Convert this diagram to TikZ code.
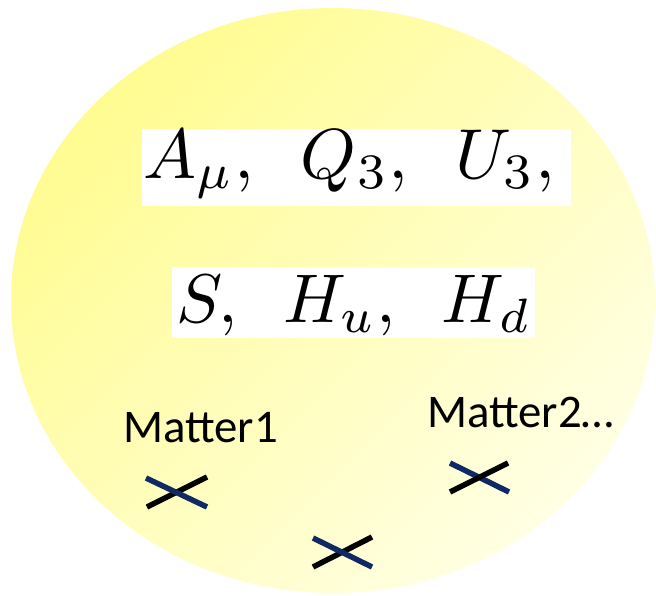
\documentclass[tikz,border=0pt]{standalone}
\usepackage{fontspec}
\newfontfamily\carlito{Carlito}
\definecolor{navyx}{RGB}{16,40,100}
\definecolor{yellowA}{RGB}{255,252,145}
\definecolor{yellowB}{RGB}{255,255,228}
\tikzset{
  mathbox/.style={draw=none, fill=white, inner ysep=0pt, align=left, anchor=north west},
  mlabel/.style={inner sep=0pt, anchor=base west, font=\carlito\fontsize{47}{47}\selectfont},
  crossline/.style={line width=5.5bp},
}
\begin{document}
\begin{tikzpicture}[x=1bp,y=-1bp]
\useasboundingbox (0,0) rectangle (656,596);
\shade[shading=axis, top color=yellowA, bottom color=yellowB, shading angle=45]
  (333,300.5) ellipse [x radius=322bp, y radius=292.5bp];
\node[mathbox, inner xsep=1bp, text width=427bp, text height=49bp, text depth=28bp] (row1) at (142,129)
  {\resizebox{412bp}{!}{$A_\mu,\ \, Q_3,\ \, U_3,$}};
\node[mathbox, inner xsep=4bp, text width=355bp, text height=55bp, text depth=16bp] (row2) at (172,267)
  {\resizebox{355bp}{!}{$S,\ \, H_u,\ \, H_d$}};
\node[mlabel] (m1) at (123,442) {Matter1};
\node[mlabel] (m2) at (427,427) {Matter2…};
% crosses
\draw[crossline, black] (147,507) -- (207,477);
\draw[crossline, navyx] (146,478) -- (207,507);
\draw[crossline, black] (313,567) -- (372,537);
\draw[crossline, navyx] (313,538) -- (372,567);
\draw[crossline, navyx] (450,463) -- (509,492);
\draw[crossline, black] (450,492) -- (508,463);
\end{tikzpicture}
\end{document}
